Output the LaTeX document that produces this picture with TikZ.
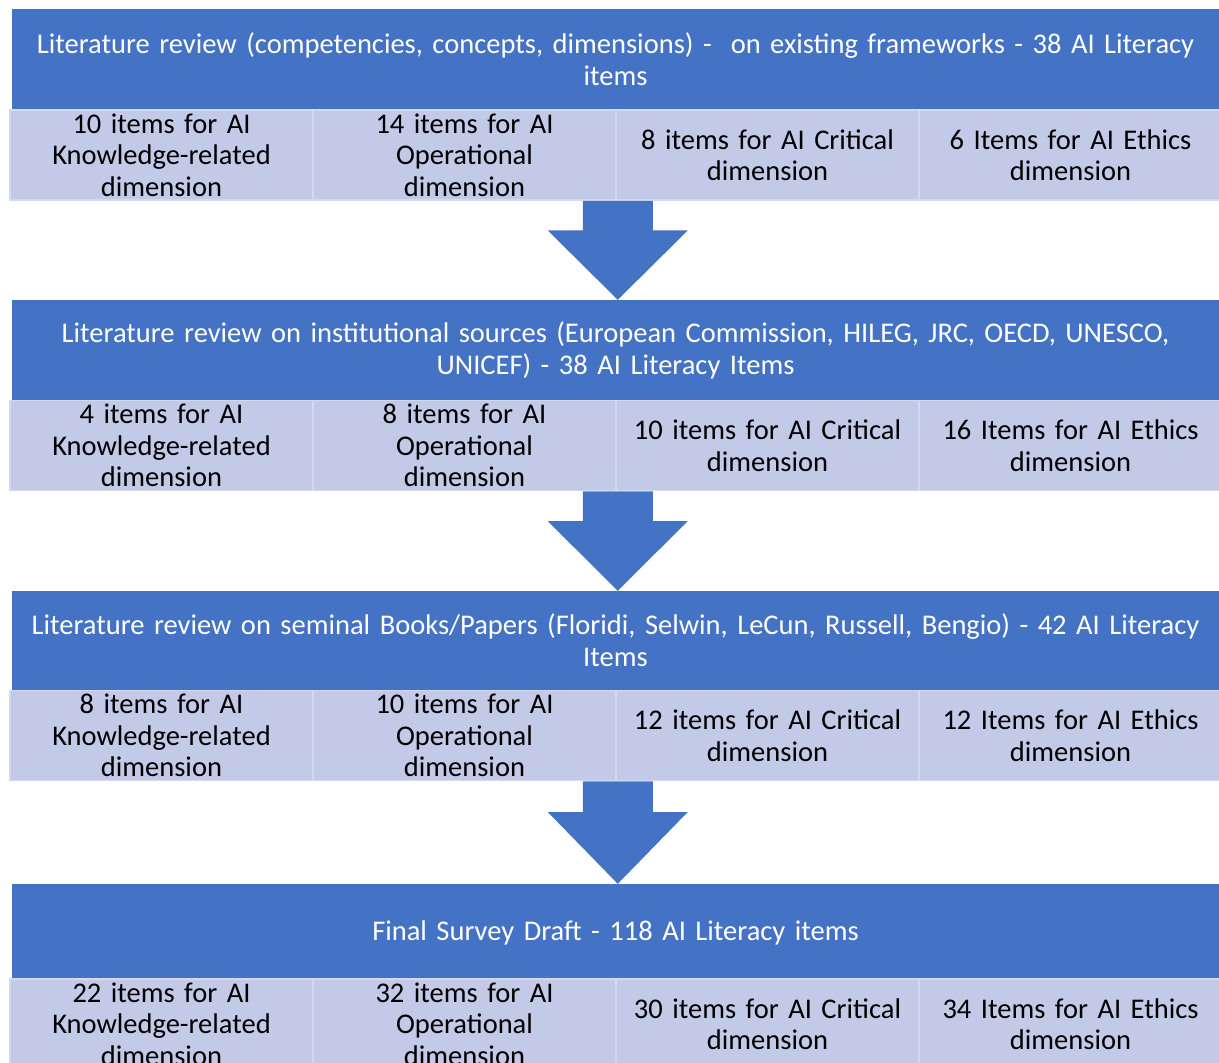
\documentclass[tikz,border=0pt]{standalone}
\usepackage{fontspec}
\usetikzlibrary{calc}
\setmainfont{Carlito}
\definecolor{hdrblue}{HTML}{4472C4}
\definecolor{cellblue}{HTML}{C2CAE7}
\definecolor{celledge}{HTML}{D3D9EE}
\begin{document}
\begin{tikzpicture}[x=1pt,y=-1pt,
  hdrbox/.style={fill=hdrblue,text=white,inner sep=0pt,minimum width=1207pt,minimum height=#1,align=center,font=\fontsize{28.5}{32}\selectfont,text width=1190pt},
  cellbox/.style={fill=cellblue,draw=celledge,line width=1.5pt,inner sep=0pt,minimum width=303pt,minimum height=90pt,align=center,font=\fontsize{28.5}{31.5}\selectfont,text width=298pt},
  bigarrow/.style={fill=hdrblue,draw=none}]
\useasboundingbox (0,0) rectangle (1219,1063);
\clip (0,0) rectangle (1219,1063);
% Block 1
\node[hdrbox=101pt] (h1) at (615.5,59.5) {Literature review (competencies, concepts, dimensions) -\ \ on existing frameworks - 38 AI Literacy\\items};
\node[cellbox] (a1) at (161.5,155) {10 items for AI\\Knowledge-related\\dimension};
\node[cellbox] (a2) at (464.5,155) {14 items for AI\\Operational\\dimension};
\node[cellbox] (a3) at (767.5,155) {8 items for AI Critical\\dimension};
\node[cellbox] (a4) at (1070.5,155) {6 Items for AI Ethics\\dimension};
% Block 2
\node[hdrbox=100pt] (h2) at (615.5,350) {Literature review on institutional sources (European Commission, HILEG, JRC, OECD, UNESCO,\\UNICEF) - 38 AI Literacy Items};
\node[cellbox] (b1) at (161.5,445.5) {4 items for AI\\Knowledge-related\\dimension};
\node[cellbox] (b2) at (464.5,445.5) {8 items for AI\\Operational\\dimension};
\node[cellbox] (b3) at (767.5,445.5) {10 items for AI Critical\\dimension};
\node[cellbox] (b4) at (1070.5,445.5) {16 Items for AI Ethics\\dimension};
% Block 3
\node[hdrbox=99pt] (h3) at (615.5,640.5) {Literature review on seminal Books/Papers (Floridi, Selwin, LeCun, Russell, Bengio) - 42 AI Literacy\\Items};
\node[cellbox] (c1) at (161.5,735.5) {8 items for AI\\Knowledge-related\\dimension};
\node[cellbox] (c2) at (464.5,735.5) {10 items for AI\\Operational\\dimension};
\node[cellbox] (c3) at (767.5,735.5) {12 items for AI Critical\\dimension};
\node[cellbox] (c4) at (1070.5,735.5) {12 Items for AI Ethics\\dimension};
% Block 4
\node[hdrbox=97pt] (h4) at (615.5,932.5) {Final Survey Draft - 118 AI Literacy items};
\node[cellbox] (d1) at (161.5,1024) {22 items for AI\\Knowledge-related\\dimension};
\node[cellbox] (d2) at (464.5,1024) {32 items for AI\\Operational\\dimension};
\node[cellbox] (d3) at (767.5,1024) {30 items for AI Critical\\dimension};
\node[cellbox] (d4) at (1070.5,1024) {34 Items for AI Ethics\\dimension};
% Block arrows between stages
\foreach \up/\down in {a2/h2,b2/h3,c2/h4}{
  \path let \p1=(\up.south east), \p2=(\down.north) in
    coordinate (s) at (\x1+1pt,\y1)
    coordinate (t) at (\x1+1pt,\y2);
  \fill[bigarrow] ($(s)+(-35,0)$) -- ($(s)+(35,0)$) -- ($(t)!0.7!(s)+(35,0)$)
    -- ($(t)!0.7!(s)+(70,0)$) -- (t) -- ($(t)!0.7!(s)+(-70,0)$)
    -- ($(t)!0.7!(s)+(-35,0)$) -- cycle;
}
\end{tikzpicture}
\end{document}
